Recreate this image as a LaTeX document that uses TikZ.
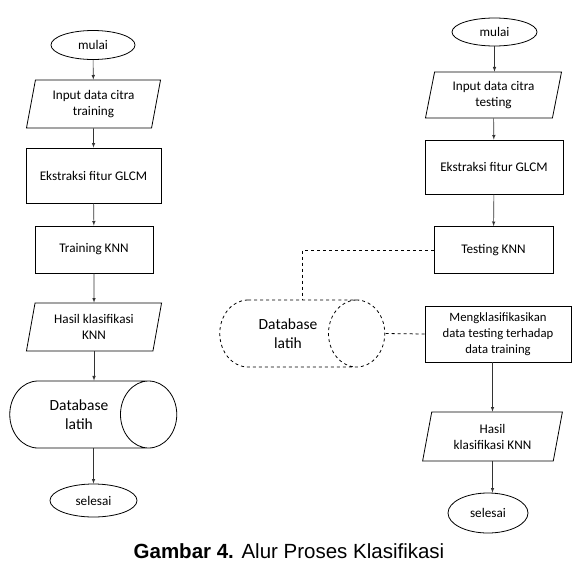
\documentclass[tikz,border=0pt]{standalone}
\usepackage{fontspec}
\setmainfont{Carlito}
\newfontfamily\capfont{Liberation Sans}
\usepackage{tikz}
\usetikzlibrary{shapes.geometric}

\tikzset{
  term/.style={draw,ellipse,inner sep=0pt},
  io/.style={draw,trapezium,trapezium left angle=77,trapezium right angle=103,trapezium stretches=true,align=center,inner sep=0pt},
  proc/.style={draw,rectangle,align=center,inner sep=0pt},
  dbase/.style={draw,cylinder,shape aspect=0.84,inner sep=0pt},
  dbtext/.style={align=center,font=\fontsize{15.5}{19}\selectfont},
  arr/.style={-latex,draw=black!80,line width=0.6pt}
}

\begin{document}
\begin{tikzpicture}[x=1pt,y=-1pt,line width=0.8pt,font=\fontsize{13.2}{16}\selectfont]
			\useasboundingbox (0,0) rectangle (578,563);
			% kiri: pelatihan
			\node[term,minimum width=84pt,minimum height=29pt] (mulaiL) at (93,45) {mulai};
			\node[io,minimum width=135pt,minimum height=48pt] (inputL) at (93.5,104) {Input data citra\\training};
			\node[proc,minimum width=135pt,minimum height=55pt] (glcmL) at (93.5,175.5) {Ekstraksi fitur GLCM};
			\node[proc,minimum width=118pt,minimum height=47pt] (knnL) at (94,249.5) {Training KNN};
			\node[io,minimum width=136pt,minimum height=48pt] (hasilL) at (94,327) {Hasil klasifikasi\\KNN};
			\node[dbase,minimum height=167pt,label={[dbtext]center:Database\\latih}] (dbL) at (79,414.5) {\rule{0pt}{67pt}};
			\node[term,minimum width=87pt,minimum height=33pt] (selesaiL) at (93.5,500.5) {selesai};
			\draw[arr] (mulaiL) -- (inputL);
			\draw[arr] (inputL) -- (glcmL);
			\draw[arr] (glcmL) -- (knnL);
			\draw[arr] (knnL) -- (hasilL);
			\draw[arr] (hasilL.south) -- (hasilL.south|-dbL.north);
			\draw[arr] (dbL.south-|selesaiL.north) -- (selesaiL.north);
			% kanan: pengujian
			\node[term,minimum width=85pt,minimum height=28pt] (mulaiR) at (494.5,32) {mulai};
			\node[io,minimum width=137pt,minimum height=46pt] (inputR) at (493.5,95) {Input data citra\\testing};
			\node[proc,minimum width=138pt,minimum height=54pt] (glcmR) at (494,167) {Ekstraksi fitur GLCM};
			\node[proc,minimum width=119pt,minimum height=47pt] (knnR) at (493.5,250) {Testing KNN};
			\node[proc,minimum width=146pt,minimum height=56pt,font=\fontsize{12.7}{16}\selectfont] (klasR) at (498,334) {Mengklasifikasikan\\data testing terhadap\\data training};
			\node[io,minimum width=141pt,minimum height=49pt] (hasilR) at (492.5,436.5) {Hasil\\klasifikasi KNN};
			\node[term,minimum width=80pt,minimum height=40pt] (selesaiR) at (488,513) {selesai};
			\node[dbase,dashed,minimum height=165pt,label={[dbtext]center:Database\\latih}] (dbR) at (288,333.5) {\rule{0pt}{67pt}};
			\draw[arr] (mulaiR) -- (mulaiR|-inputR.north);
			\draw[arr] (inputR) -- (glcmR);
			\draw[arr] (glcmR) -- (knnR);
			\draw[arr] (klasR.south-|hasilR.north) -- (hasilR.north);
			\draw[arr] (hasilR.south) -- (hasilR.south|-selesaiR.north);
			\draw[dashed] (knnR.west) -| (dbR.shape center|-dbR.north);
			\draw[dashed] (klasR.west) -- (dbR.east);
			% judul
			\node[font=\capfont\fontsize{20.5}{24}\selectfont] (judul) at (289,551) {\textbf{Gambar 4.} Alur Proses Klasifikasi};
		\end{tikzpicture}
\end{document}
